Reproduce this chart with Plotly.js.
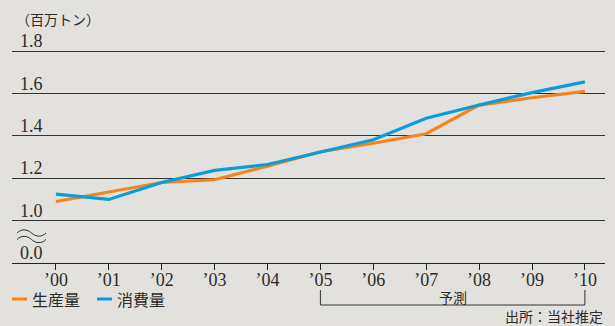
<!DOCTYPE html>
<html>
<head>
<meta charset="utf-8">
<script src="https://cdn.plot.ly/plotly-3.0.1.min.js"></script>
<style>
html,body{margin:0;padding:0;background:#e2e1dd;}
#chart{width:615px;height:326px;}
</style>
</head>
<body>
<div id="chart"></div>
<script>
// Data
var years = [0,1,2,3,4,5,6,7,8,9,10];
var yearLabels = ['’00','’01','’02','’03','’04','’05','’06','’07','’08','’09','’10'];
var production = [1.09,1.135,1.18,1.193,1.257,1.325,1.365,1.41,1.545,1.58,1.61];
var consumption = [1.125,1.10,1.18,1.237,1.265,1.325,1.382,1.483,1.546,1.604,1.655];
var yTickVals = [0.8,1.0,1.2,1.4,1.6,1.8];
var yTickText = ['0.0','1.0','1.2','1.4','1.6','1.8'];
var seriesNames = ['生産量','消費量'];
var seriesColors = ['#f5841f','#0c9dd8'];

var serif = 'Liberation Serif';
var jp = 'Noto Sans CJK JP';
var textColor = '#2b2b2b';

// plot area geometry (pixels) used to convert pixel spots to paper coordinates
var W = 615, H = 326, ML = 12, MR = 10, MT = 49, MB = 63;
var PW = W - ML - MR, PH = H - MT - MB;
function px(x){ return (x - ML) / PW; }
function py(y){ return (H - MB - y) / PH; }

var traces = [
  {x: years, y: production, name: seriesNames[0], type:'scatter', mode:'lines',
   line:{color:seriesColors[0], width:3.2}},
  {x: years, y: consumption, name: seriesNames[1], type:'scatter', mode:'lines',
   line:{color:seriesColors[1], width:3.2}}
];

// break symbol: two wavy lines
function wave(cy){
  var a = 2.6;
  return 'M' + px(17) + ',' + py(cy) +
    ' C' + px(21) + ',' + py(cy - a*1.6) + ' ' + px(27) + ',' + py(cy - a*1.6) + ' ' + px(31.5) + ',' + py(cy) +
    ' C' + px(36) + ',' + py(cy + a*1.6) + ' ' + px(42) + ',' + py(cy + a*1.6) + ' ' + px(46) + ',' + py(cy);
}

var shapes = [
  {type:'line', xref:'x', yref:'paper', x0:5, x1:10, y0:py(305), y1:py(305), line:{color:'#333', width:1}},
  {type:'line', xref:'x', yref:'paper', x0:5, x1:5, y0:py(305), y1:py(290), line:{color:'#333', width:1}},
  {type:'line', xref:'x', yref:'paper', x0:10, x1:10, y0:py(305), y1:py(290), line:{color:'#333', width:1}},
  {type:'path', xref:'paper', yref:'paper', path:wave(233), line:{color:'#333', width:1}},
  {type:'path', xref:'paper', yref:'paper', path:wave(239.5), line:{color:'#333', width:1}},
  // legend keys
  {type:'line', xref:'paper', yref:'paper', x0:px(12), x1:px(27), y0:py(299), y1:py(299), line:{color:seriesColors[0], width:3}},
  {type:'line', xref:'paper', yref:'paper', x0:px(97), x1:px(112), y0:py(299), y1:py(299), line:{color:seriesColors[1], width:3}}
];

var annotations = [
  {text:'（百万トン）', xref:'paper', yref:'paper', x:px(14), y:py(19), xanchor:'left', yanchor:'middle',
   showarrow:false, font:{family:jp, size:14, color:textColor}},
  {text:'予測', xref:'x', yref:'paper', x:7.5, y:py(297), xanchor:'center', yanchor:'middle',
   showarrow:false, font:{family:jp, size:14, color:textColor}},
  {text:'出所：当社推定', xref:'paper', yref:'paper', x:px(605), y:py(316), xanchor:'right', yanchor:'middle',
   showarrow:false, font:{family:jp, size:14, color:textColor}},
  {text:seriesNames[0], xref:'paper', yref:'paper', x:px(30), y:py(299), xanchor:'left', yanchor:'middle',
   showarrow:false, font:{family:jp, size:16, color:textColor}},
  {text:seriesNames[1], xref:'paper', yref:'paper', x:px(115), y:py(299), xanchor:'left', yanchor:'middle',
   showarrow:false, font:{family:jp, size:16, color:textColor}}
];
for (var i = 0; i < yTickVals.length; i++) {
  annotations.push({text:yTickText[i], xref:'paper', yref:'y', x:px(18), y:yTickVals[i],
    xanchor:'left', yanchor:'middle', yshift:10, showarrow:false,
    font:{family:serif, size:18, color:textColor}});
}

var layout = {
  width:W, height:H,
  paper_bgcolor:'#e2e1dd', plot_bgcolor:'#e2e1dd',
  margin:{l:ML, r:MR, t:MT, b:MB},
  showlegend:false,
  xaxis:{range:[-0.83,10.38], tickvals:years, ticktext:yearLabels,
         showgrid:false, zeroline:false, showline:true, linecolor:'#222', linewidth:1,
         ticks:'outside', ticklen:6, tickcolor:'#222', tickwidth:1, ticklabelstandoff:-6,
         tickfont:{family:serif, size:18, color:textColor}, fixedrange:true},
  yaxis:{range:[0.8,1.81], tickvals:yTickVals, showticklabels:false,
         showgrid:true, gridcolor:'#333', gridwidth:1, zeroline:false, fixedrange:true},
  shapes:shapes,
  annotations:annotations
};

Plotly.newPlot('chart', traces, layout, {staticPlot:true, displayModeBar:false});
</script>
</body>
</html>
